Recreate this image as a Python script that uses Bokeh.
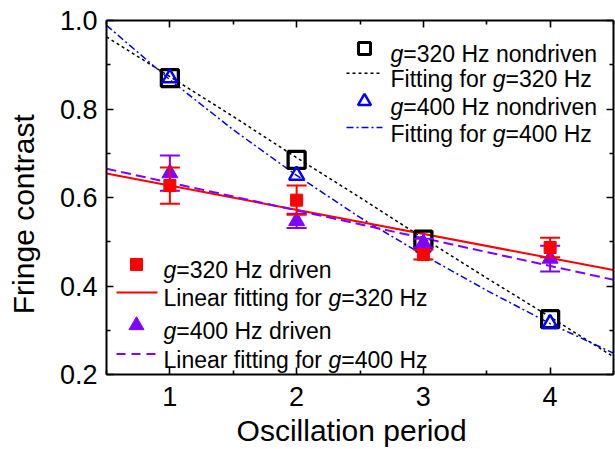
from bokeh.plotting import figure
from bokeh.models import (FixedTicker, LinearAxis, Label, PrintfTickFormatter,
                          CustomJSTickFormatter, Range1d)
from bokeh.embed import file_html
from bokeh.resources import INLINE

FONT = "Liberation Sans"

# ---------------- data ----------------
periods = [1, 2, 3, 4]
nd320 = [0.870, 0.685, 0.505, 0.325]          # g=320 Hz nondriven
nd400 = [0.870, 0.650, 0.488, 0.315]          # g=400 Hz nondriven
dr320 = [0.627, 0.594, 0.471, 0.487]          # g=320 Hz driven
dr320_err = [0.041, 0.033, 0.011, 0.022]
dr400 = [0.655, 0.547, 0.497, 0.462]          # g=400 Hz driven
dr400_err = [0.040, 0.016, 0.010, 0.029]

fit_x = [0.5, 1.0, 1.5, 2.0, 2.5, 3.0, 3.5, 4.0, 4.5]
fit320 = [0.963, 0.873, 0.783, 0.690, 0.600, 0.508, 0.418, 0.330, 0.240]
fit400 = [0.989, 0.866, 0.753, 0.650, 0.555, 0.470, 0.390, 0.315, 0.248]
lin_x = [0.5, 4.5]
lin320 = [0.654, 0.436]
lin400 = [0.665, 0.414]

x_ticks = [1, 2, 3, 4]
x_minor = [0.5, 1.5, 2.5, 3.5, 4.5]
y_ticks = [0.2, 0.4, 0.6, 0.8, 1.0]
y_minor = [0.3, 0.5, 0.7, 0.9]

BLACK, BLUE, RED, PURPLE = "#000000", "#0000FF", "#FF0000", "#8000FF"
NBSP = "\u00a0"

# ---------------- figure ----------------
p = figure(width=615, height=449, x_range=Range1d(0.5, 4.5), y_range=Range1d(0.2, 1.0),
           output_backend="svg", toolbar_location=None,
           x_axis_location=None, y_axis_location=None,
           min_border_left=106, min_border_right=2, min_border_top=20, min_border_bottom=71)
p.xgrid.visible = False
p.ygrid.visible = False
p.outline_line_color = None
p.background_fill_color = "white"
p.border_fill_color = "white"

bottom_ax = LinearAxis()
left_ax = LinearAxis()
top_ax = LinearAxis()
right_ax = LinearAxis()

def style_axis(ax, ticks, minor, labels):
    ax.ticker = FixedTicker(ticks=ticks, minor_ticks=minor)
    ax.axis_line_color = BLACK
    ax.axis_line_width = 2
    ax.major_tick_in = 7
    ax.major_tick_out = 0
    ax.minor_tick_in = 4
    ax.minor_tick_out = 0
    ax.major_tick_line_width = 1.6
    ax.minor_tick_line_width = 1.6
    ax.major_tick_line_color = BLACK
    ax.minor_tick_line_color = BLACK
    if labels:
        ax.major_label_text_font = FONT
        ax.major_label_text_font_size = "27px"
        ax.major_label_text_color = BLACK
        ax.axis_label_text_font = FONT
        ax.axis_label_text_font_size = "30px"
        ax.axis_label_text_font_style = "normal"
        ax.axis_label_text_color = BLACK
    else:
        ax.formatter = CustomJSTickFormatter(code="return ''")
        ax.major_label_text_font_size = "1px"
        ax.major_label_standoff = 0

style_axis(bottom_ax, x_ticks, x_minor, True)
style_axis(left_ax, y_ticks, y_minor, True)
style_axis(top_ax, x_ticks, x_minor, False)
style_axis(right_ax, y_ticks, y_minor, False)
left_ax.formatter = PrintfTickFormatter(format="%.1f")
bottom_ax.formatter = PrintfTickFormatter(format="%d")
bottom_ax.major_label_standoff = 12
left_ax.major_label_standoff = 9
bottom_ax.axis_label = "Oscillation period" + NBSP * 2
left_ax.axis_label = "Fringe contrast" + NBSP * 4
bottom_ax.axis_label_standoff = 5
left_ax.axis_label_standoff = 17

p.add_layout(bottom_ax, "below")
p.add_layout(left_ax, "left")
p.add_layout(top_ax, "above")
p.add_layout(right_ax, "right")

# ---------------- fits ----------------
p.line(fit_x, fit320, line_color=BLACK, line_width=1.5, line_dash="3 3")
p.line(fit_x, fit400, line_color=BLUE, line_width=1.5, line_dash="7 3 2 3")
p.line(lin_x, lin320, line_color=RED, line_width=2)
p.line(lin_x, lin400, line_color=PURPLE, line_width=2, line_dash="10 5")

# ---------------- nondriven markers ----------------
p.scatter(periods, nd320, marker="square", size=17, fill_color=None,
          line_color=BLACK, line_width=3.3)
p.scatter(periods, nd400, marker="triangle", size=15, fill_color=None,
          line_color=BLUE, line_width=2.5)

# ---------------- driven markers with error bars ----------------
def error_bars(vals, errs, color):
    lo = [v - e for v, e in zip(vals, errs)]
    hi = [v + e for v, e in zip(vals, errs)]
    p.segment(periods, lo, periods, hi, line_color=color, line_width=2)
    p.scatter(periods, lo, marker="dash", size=20, line_color=color, line_width=2)
    p.scatter(periods, hi, marker="dash", size=20, line_color=color, line_width=2)

error_bars(dr400, dr400_err, PURPLE)
p.scatter(periods, dr400, marker="triangle", size=16, fill_color=PURPLE, line_color=PURPLE)
error_bars(dr320, dr320_err, RED)
p.scatter(periods, dr320, marker="square", size=12, fill_color=RED, line_color=RED)

# ---------------- layout helpers (reference pixel -> data) ----------------
FL, FR, FT, FB = 106.0, 613.0, 20.0, 378.0
def dx(px):
    return 0.5 + (px - FL) * (4.0 / (FR - FL))
def dy(py):
    return 0.2 + (FB - py) * (0.8 / (FB - FT))

LEG = "23px"
BASE = 6.0   # baseline below row centre, px
def txt(x_px, row_px, text, off=0.0, italic=False):
    p.add_layout(Label(x=dx(x_px), y=dy(row_px + BASE), x_offset=off, text=text,
                       text_font=FONT, text_font_size=LEG,
                       text_font_style="italic" if italic else "normal",
                       text_color=BLACK, text_baseline="alphabetic"))

G_W = 0.556 * 23          # italic g advance
FIT_W = 4.446 * 23        # "Fitting for "
LIN_W = 7.17 * 23         # "Linear fitting for "

# top-right legend
TX, GX, L0, L1 = 390, 364, 346, 382
rows_tr = [48.3, 73.3, 101.7, 128.3]
p.scatter([dx(GX)], [dy(rows_tr[0])], marker="square", size=12, fill_color=None,
          line_color=BLACK, line_width=3)
p.line([dx(L0), dx(L1)], [dy(rows_tr[1])] * 2, line_color=BLACK, line_width=1.5, line_dash="3 3")
p.scatter([dx(GX)], [dy(rows_tr[2])], marker="triangle", size=13, fill_color=None,
          line_color=BLUE, line_width=2.5)
p.line([dx(L0), dx(L1)], [dy(rows_tr[3])] * 2, line_color=BLUE, line_width=1.5, line_dash="7 3 2 3")

txt(TX, rows_tr[0], "g", italic=True)
txt(TX, rows_tr[0], "=320 Hz nondriven", off=G_W)
txt(TX, rows_tr[1], "Fitting for")
txt(TX, rows_tr[1], "g", off=FIT_W, italic=True)
txt(TX, rows_tr[1], "=320 Hz", off=FIT_W + G_W)
txt(TX, rows_tr[2], "g", italic=True)
txt(TX, rows_tr[2], "=400 Hz nondriven", off=G_W)
txt(TX, rows_tr[3], "Fitting for")
txt(TX, rows_tr[3], "g", off=FIT_W, italic=True)
txt(TX, rows_tr[3], "=400 Hz", off=FIT_W + G_W)

# bottom-left legend
BX, BG, B0, B1 = 163, 136, 116, 157
rows_bl = [266.7, 295.0, 328.3, 357.3]
p.scatter([dx(BG)], [dy(rows_bl[0])], marker="square", size=12, fill_color=RED, line_color=RED)
p.line([dx(B0), dx(B1)], [dy(rows_bl[1])] * 2, line_color=RED, line_width=2)
p.scatter([dx(BG)], [dy(rows_bl[2])], marker="triangle", size=15, fill_color=PURPLE, line_color=PURPLE)
p.line([dx(B0), dx(B1)], [dy(rows_bl[3])] * 2, line_color=PURPLE, line_width=2, line_dash="9 6")

txt(BX, rows_bl[0], "g", italic=True)
txt(BX, rows_bl[0], "=320 Hz driven", off=G_W)
txt(BX, rows_bl[1], "Linear fitting for")
txt(BX, rows_bl[1], "g", off=LIN_W, italic=True)
txt(BX, rows_bl[1], "=320 Hz", off=LIN_W + G_W)
txt(BX, rows_bl[2], "g", italic=True)
txt(BX, rows_bl[2], "=400 Hz driven", off=G_W)
txt(BX, rows_bl[3], "Linear fitting for")
txt(BX, rows_bl[3], "g", off=LIN_W, italic=True)
txt(BX, rows_bl[3], "=400 Hz", off=LIN_W + G_W)

open("out.html", "w").write(file_html(p, INLINE))
